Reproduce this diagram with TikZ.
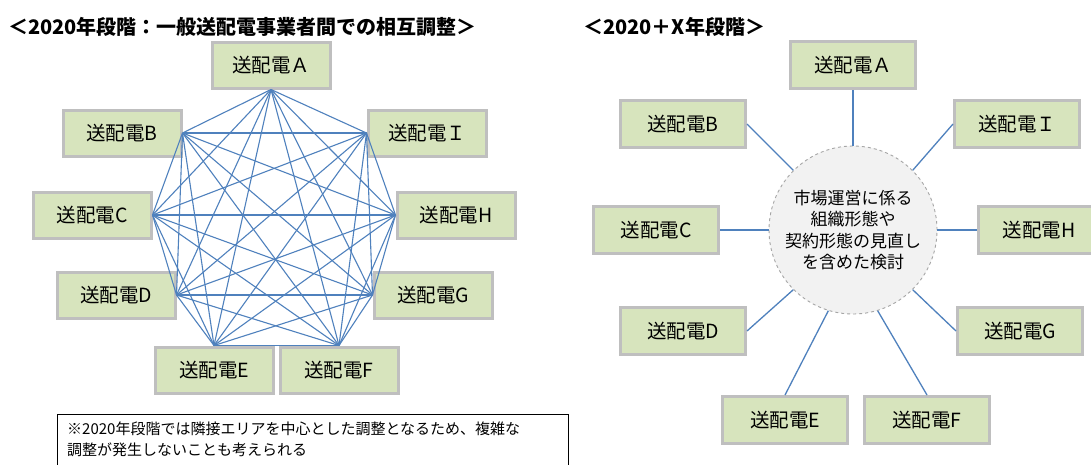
\documentclass[tikz,border=0pt]{standalone}
\usepackage{fontspec}
\setmainfont{Noto Sans CJK JP}
\usepackage{tikz}
\definecolor{AreaGreen}{HTML}{D7E4BD}
\definecolor{AreaGray}{HTML}{BFBFBF}
\definecolor{LinkBlue}{HTML}{4F81BD}
\definecolor{HubGray}{HTML}{F2F2F2}
\definecolor{HubLine}{HTML}{A6A6A6}

\tikzset{
  area/.style={fill=AreaGreen, draw=AreaGray, line width=3pt,
               minimum width=118pt, minimum height=46pt, inner sep=0pt,
               font=\fontsize{19.5}{21}\selectfont},
  wide/.style={area, minimum width=125pt, minimum height=47pt},
  mesh/.style={draw=LinkBlue, line width=1.1pt},
  spoke/.style={draw=LinkBlue, line width=1.3pt},
  heading/.style={anchor=west, inner sep=0pt, font=\fontsize{20}{22}\selectfont\bfseries}
}

\begin{document}
\begin{tikzpicture}[x=1pt, y=-1pt]
  \clip (0,0) rectangle (1091,464);
  \fill[white] (0,0) rectangle (1091,464);

  % --- 2020: every area talks to every other one
  \node[heading] (titleL) at (8,27) {＜2020年段階：一般送配電事業者間での相互調整＞};
  \node[area] (lA) at (271,65)  {送配電Ａ};
  \node[area] (lB) at (122,133) {送配電B};
  \node[area] (lI) at (427,133) {送配電Ｉ};
  \node[area] (lC) at (92,215)  {送配電C};
  \node[area] (lH) at (456,215) {送配電H};
  \node[area] (lD) at (116,295) {送配電D};
  \node[area] (lG) at (433,295) {送配電G};
  \node[area] (lE) at (214,370) {送配電E};
  \node[area] (lF) at (339,370) {送配電F};

  \coordinate (pA) at (lA.south);
  \coordinate (pB) at (lB.east);
  \coordinate (pI) at (lI.west);
  \coordinate (pC) at (lC.east);
  \coordinate (pH) at (lH.west);
  \coordinate (pD) at (lD.east);
  \coordinate (pG) at (lG.west);
  \coordinate (pE) at (lE.north);
  \coordinate (pF) at (lF.north);

  \foreach \p [count=\n] in {A,B,I,C,H,D,G,E,F}
    \foreach \q [count=\m] in {A,B,I,C,H,D,G,E,F}
      {\ifnum\m>\n \draw[mesh] (p\p) -- (p\q); \fi}

  \node[draw=black, line width=0.9pt, anchor=north west, inner sep=0pt,
        minimum width=511pt, minimum height=70pt] (note) at (57,414) {};
  \node[anchor=north west, inner sep=0pt, align=left,
        font=\fontsize{15}{21}\selectfont] (notetext) at (67,422)
    {※2020年段階では隣接エリアを中心とした調整となるため、複雑な\\
     調整が発生しないことも考えられる};

  % --- 2020+X: one common hub
  \node[heading] (titleR) at (583,27) {＜2020＋X年段階＞};
  \node[circle, fill=HubGray, draw=HubLine, dashed, line width=0.9pt,
        minimum size=168pt, inner sep=0pt, align=center,
        font=\fontsize{17}{21.5}\selectfont] (hub) at (853,230)
    {市場運営に係る\\組織形態や\\契約形態の見直し\\を含めた検討};

  \node[wide] (rA) at (853,65)  {送配電Ａ};
  \node[wide] (rB) at (683,124) {送配電B};
  \node[wide] (rI) at (1017,124) {送配電Ｉ};
  \node[wide] (rC) at (656,230) {送配電C};
  \node[wide, minimum width=122pt] (rH) at (1039,230) {送配電H};
  \node[wide] (rD) at (683,331) {送配電D};
  \node[wide] (rG) at (1020,331) {送配電G};
  \node[wide] (rE) at (785,420) {送配電E};
  \node[wide] (rF) at (927,420) {送配電F};

  \draw[spoke] (rA.south) -- (hub.90);
  \draw[spoke] (rB.east)  -- (hub.135);
  \draw[spoke] (rI.west)  -- (hub.45);
  \draw[spoke] (rC.east)  -- (hub.180);
  \draw[spoke] (rH.west)  -- (hub.0);
  \draw[spoke] (rD.east)  -- (hub.-135);
  \draw[spoke] (rG.west)  -- (hub.-45);
  \draw[spoke] (rE.north) -- (hub.-107);
  \draw[spoke] (rF.north) -- (hub.-73);
\end{tikzpicture}
\end{document}
